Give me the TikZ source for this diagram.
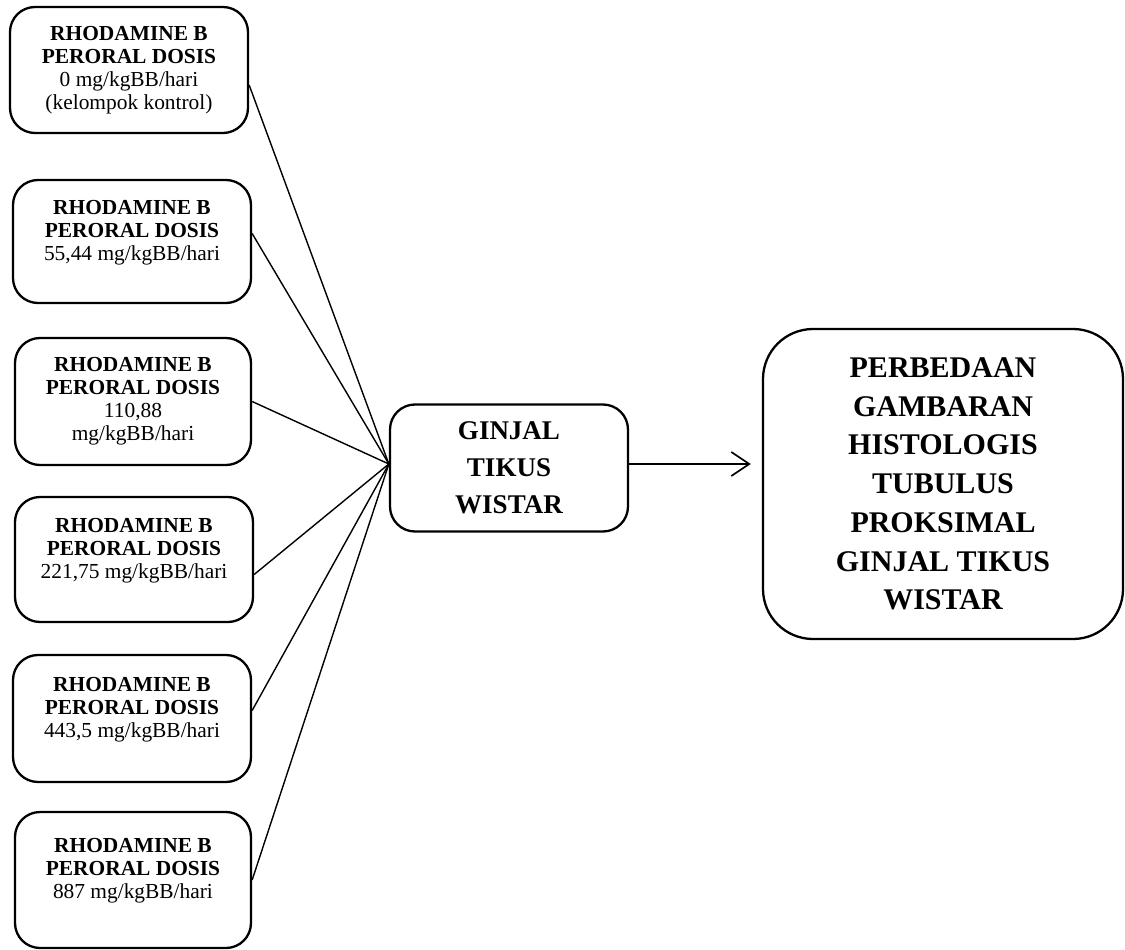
\documentclass[tikz,border=0pt]{standalone}
\usepackage{fontspec}
\setmainfont{Liberation Serif}
\usetikzlibrary{arrows.meta}
\begin{document}
\begin{tikzpicture}[x=1pt,y=-1pt,>={Straight Barb[length=18pt,width=24pt]},
	box/.style={draw,line width=2.3pt,rounded corners=25pt,align=center,inner sep=0pt},
	dosebox/.style={box,minimum width=238pt,minimum height=125pt,font=\fontsize{21.4}{23}\selectfont},
	bigtext/.style={font=\bfseries\fontsize{30}{38.7}\selectfont}]
	\useasboundingbox (0,0) rectangle (1125,950);
	\node[dosebox,minimum height=126pt] (d1) at (129,70) {\textbf{RHODAMINE B}\\\textbf{PERORAL DOSIS}\\0 mg/kgBB/hari\\(kelompok kontrol)};
	\node[dosebox,minimum height=123pt] (d2) at (132,241.5) {\textbf{RHODAMINE B}\\\textbf{PERORAL DOSIS}\\55,44 mg/kgBB/hari\\~};
	\node[dosebox,minimum width=236pt,minimum height=127pt] (d3) at (133,401.5) {\textbf{RHODAMINE B}\\\textbf{PERORAL DOSIS}\\110,88\\mg/kgBB/hari};
	\node[dosebox] (d4) at (134,559.5) {\textbf{RHODAMINE B}\\\textbf{PERORAL DOSIS}\\221,75 mg/kgBB/hari\\~};
	\node[dosebox,minimum height=127pt] (d5) at (132,718.5) {\textbf{RHODAMINE B}\\\textbf{PERORAL DOSIS}\\443,5 mg/kgBB/hari\\~};
	\node[dosebox,minimum width=236pt,minimum height=136pt] (d6) at (133,880) {\textbf{RHODAMINE B}\\\textbf{PERORAL DOSIS}\\887 mg/kgBB/hari\\~};
	\node[box,font=\bfseries\fontsize{27}{37}\selectfont,minimum width=238pt,minimum height=127pt] (ginjal) at (509,468) {GINJAL\\TIKUS\\WISTAR};
	\node[box,bigtext,rounded corners=50pt,minimum width=360pt,minimum height=310pt] (hasil) at (943,484) {PERBEDAAN\\GAMBARAN\\HISTOLOGIS\\TUBULUS\\PROKSIMAL\\GINJAL TIKUS\\WISTAR};
	\coordinate (j) at ([yshift=4pt]ginjal.west);
	\draw[line width=1.4pt] ([yshift=-15pt]d1.east) -- (j);
	\draw[line width=1.4pt] ([yshift=8pt]d2.east) -- (j);
	\draw[line width=1.4pt] (d3.east) -- (j);
	\draw[line width=1.4pt] ([yshift=-15pt]d4.east) -- (j);
	\draw[line width=1.4pt] ([yshift=8pt]d5.east) -- (j);
	\draw[line width=1.4pt] (d6.east) -- (j);
	\draw[->,line width=1.7pt] ([yshift=4pt]ginjal.east) -- ([yshift=4pt,xshift=-11pt]ginjal.east -| hasil.west);
\end{tikzpicture}
\end{document}
